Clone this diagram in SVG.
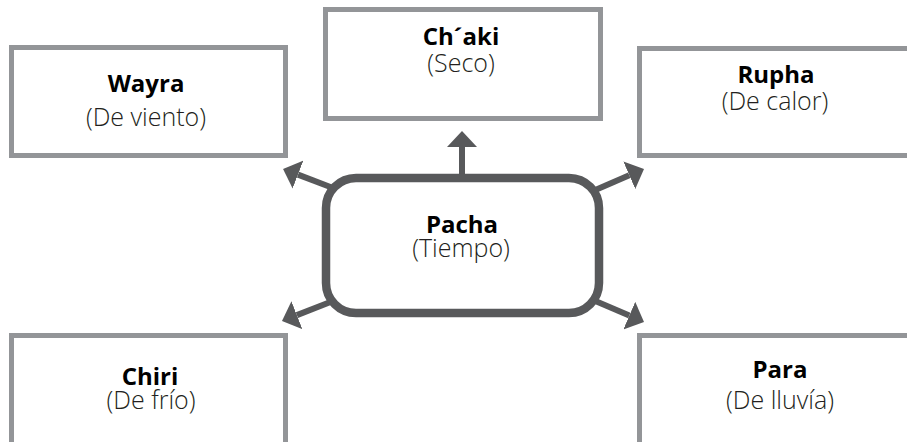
<svg xmlns="http://www.w3.org/2000/svg" width="907" height="442" viewBox="0 0 907 442">
<defs>
<style>
.box{fill:#fff;stroke:#939598;stroke-width:5}
.center{fill:#fff;stroke:#58595b;stroke-width:8.5}
.conn{stroke:#58595b;stroke-width:6;fill:none}
.t{font-family:"Open Sans","Noto Sans","Liberation Sans",sans-serif;fill:#231f20;text-anchor:middle}
.b{font-size:24px;font-weight:700;fill:#000}
.r{font-size:25px;font-weight:300}
</style>
<marker id="ah" viewBox="0 -15 16 30" markerWidth="16" markerHeight="30" refX="0" refY="0" markerUnits="userSpaceOnUse" orient="auto">
<path d="M0,-15 L16,0 L0,15 z" fill="#58595b"/>
</marker>
</defs>
<rect width="907" height="442" fill="#fff"/>
<g id="wayra">
<rect class="box" x="11.5" y="47.5" width="274" height="108"/>
<text class="t b" x="146" y="92">Wayra</text>
<text class="t r" x="146" y="126">(De viento)</text>
</g>
<g id="chaki">
<rect class="box" x="325.5" y="9.5" width="275" height="109"/>
<text class="t b" x="461" y="45">Ch´aki</text>
<text class="t r" x="461" y="72">(Seco)</text>
</g>
<g id="rupha">
<rect class="box" x="639.5" y="48.5" width="275" height="107"/>
<text class="t b" x="776" y="83">Rupha</text>
<text class="t r" x="775" y="110">(De calor)</text>
</g>
<g id="chiri">
<rect class="box" x="11.5" y="335.5" width="274" height="120"/>
<text class="t b" x="150" y="385">Chiri</text>
<text class="t r" x="151" y="409">(De frío)</text>
</g>
<g id="para">
<rect class="box" x="639.5" y="335.5" width="275" height="120"/>
<text class="t b" x="780" y="378">Para</text>
<text class="t r" x="780" y="409">(De lluvía)</text>
</g>
<g id="connectors">
<line class="conn" x1="462" y1="180" x2="462" y2="147" marker-end="url(#ah)"/>
<line class="conn" x1="333" y1="188" x2="298" y2="174.6" marker-end="url(#ah)"/>
<line class="conn" x1="593" y1="191" x2="629.3" y2="175.3" marker-end="url(#ah)"/>
<line class="conn" x1="333" y1="301" x2="296.9" y2="315.1" marker-end="url(#ah)"/>
<line class="conn" x1="593" y1="300" x2="629.3" y2="315.6" marker-end="url(#ah)"/>
</g>
<g id="pacha">
<rect class="center" x="326" y="178" width="273" height="135" rx="30"/>
<text class="t b" x="462" y="233">Pacha</text>
<text class="t r" x="461" y="257">(Tiempo)</text>
</g>
</svg>
